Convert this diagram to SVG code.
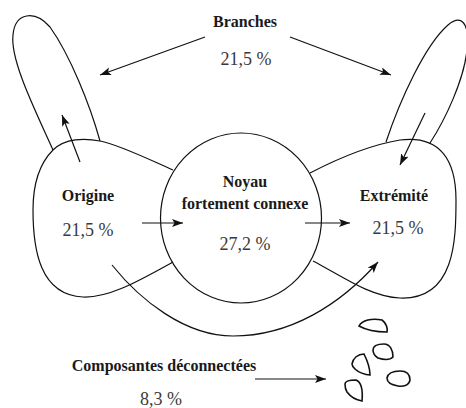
<svg xmlns="http://www.w3.org/2000/svg" width="466" height="408" viewBox="0 0 466 408">
<style>
.o{fill:none;stroke:#111;stroke-width:1.2}
.a{fill:none;stroke:#111;stroke-width:1.2}
.p{fill:none;stroke:#111;stroke-width:1.6}
.b{font-family:"Liberation Serif",serif;font-weight:bold;font-size:16px;fill:#1a1a1a;text-anchor:middle}
.n{font-family:"Liberation Serif",serif;font-size:18px;fill:#3a3a3a;text-anchor:middle}
</style>
<defs>
<marker id="ah" markerUnits="userSpaceOnUse" markerWidth="12" markerHeight="10" refX="11" refY="4" orient="auto">
<path d="M0,0 L11,4 L0,8 L2.5,4 Z" fill="#111"/>
</marker>
</defs>
<rect width="466" height="408" fill="#fff"/>
<g id="branche-gauche"><path class="o" d="M53,150 C35,110 10,60 13,35 C15,12 35,10 50,27 C70,55 90,105 100,141"/></g>
<g id="branche-droite"><path class="o" d="M386,142 C400,100 425,45 448,25 C460,15 470,20 467,50 C464,80 445,120 430,143"/></g>
<g id="origine">
<path class="o" d="M173,170 C150,160 120,145 100,141 C85,138 65,138 53,150 C38,165 33,185 33,210 C33,250 40,295 83,297 C110,298 140,280 173,262"/>
<text class="b" x="88" y="201">Origine</text>
<text class="n" x="88" y="236">21,5 %</text>
</g>
<g id="noyau">
<ellipse class="o" cx="241" cy="218" rx="80.5" ry="85"/>
<text class="b" x="245" y="187">Noyau</text>
<text class="b" x="245" y="209">fortement connexe</text>
<text class="n" x="245" y="250">27,2 %</text>
</g>
<g id="extremite">
<path class="o" d="M310,173 C335,160 370,145 400,140 C440,135 456,160 456,200 C456,240 455,300 400,298 C370,297 340,275 313,261"/>
<text class="b" x="394" y="201">Extrémité</text>
<text class="n" x="398" y="234">21,5 %</text>
</g>
<g id="branches">
<text class="b" x="245" y="27">Branches</text>
<text class="n" x="246" y="65">21,5 %</text>
</g>
<g id="composantes">
<text class="b" x="164" y="371">Composantes déconnectées</text>
<text class="n" x="161" y="405">8,3 %</text>
<path class="p" d="M359,326 C362,320 372,318 382,320 C386,323 388,328 387,332 C378,332 366,330 359,326 Z"/>
<path class="p" d="M373,350 C373,346 377,344 384,344 C390,344 393,350 393,357 C390,360 384,360 378,358 C375,356 373,353 373,350 Z"/>
<path class="p" d="M352,364 C353,358 358,354 364,354 C367,360 370,368 370,375 C365,375 358,372 355,369 C353,367 352,366 352,364 Z"/>
<path class="p" d="M387,378 C388,373 392,371 400,371 C407,371 410,375 410,380 C409,385 404,387 398,386 C392,385 387,383 387,378 Z"/>
<path class="p" d="M345,384 C345,381 349,380 356,380 C361,382 363,390 362,401 C356,400 350,396 347,392 C345,389 345,386 345,384 Z"/>
</g>
<g id="connecteurs">
<path class="a" d="M205,37 L100,75" marker-end="url(#ah)"/>
<path class="a" d="M290,37 L391,75" marker-end="url(#ah)"/>
<path class="a" d="M80,162 L62,115" marker-end="url(#ah)"/>
<path class="a" d="M425,113 L400,165" marker-end="url(#ah)"/>
<path class="a" d="M142,223 L183,223" marker-end="url(#ah)"/>
<path class="a" d="M305,223 L350,223" marker-end="url(#ah)"/>
<path class="a" d="M112,265 C140,300 185,336 233,336 C290,336 340,305 378,262" marker-end="url(#ah)"/>
<path class="a" d="M255,379 L326,379" marker-end="url(#ah)"/>
</g>
</svg>
